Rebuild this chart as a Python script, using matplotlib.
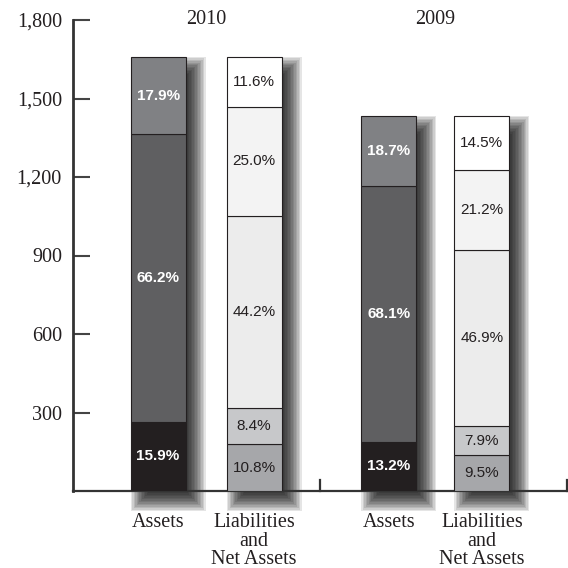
import matplotlib
matplotlib.use("Agg")
import matplotlib.pyplot as plt
from matplotlib.patches import Rectangle
import numpy as np

# values
YEARS = ["2010", "2009"]
TOTALS = [1660, 1433]
ASSET_PCT = [[15.9, 66.2, 17.9], [13.2, 68.1, 18.7]]
LIAB_PCT = [[10.8, 8.4, 44.2, 25.0, 11.6], [9.5, 7.9, 46.9, 21.2, 14.5]]
CATEGORIES = ["Assets", "Liabilities\nand\nNet Assets"]
Y_TICKS = [300, 600, 900, 1200, 1500, 1800]

ASSET_COLORS = ["#231f20", "#5f5f61", "#808184"]
LIAB_COLORS = ["#a6a7aa", "#c7c8ca", "#ececec", "#f3f3f3", "#ffffff"]
INK = "#231f20"
SERIF = "Liberation Serif"
SANS = "Liberation Sans"

CENTERS = [[1.55, 3.3], [5.75, 7.45]]
BAR_W = 1.0

W_PX = H_PX = 568
fig = plt.figure(figsize=(W_PX / 100, H_PX / 100), dpi=100)
ax = fig.add_axes([73 / 568, 77 / 568, 494 / 568, 471 / 568])
ax.set_xlim(0, 9)
ax.set_ylim(0, 1800)

# data units per pixel, used for the soft drop shadow
PX_X = 9 / 494
PX_Y = 1800 / 471

for g, year in enumerate(YEARS):
    total = TOTALS[g]
    for kind, (pcts, colors) in enumerate(
        [(ASSET_PCT[g], ASSET_COLORS), (LIAB_PCT[g], LIAB_COLORS)]
    ):
        x = CENTERS[g][kind]
        bottom = 0.0
        for pct, color in zip(pcts, colors):
            h = total * pct / 100
            ax.bar(x, h, width=BAR_W, bottom=bottom, color=color,
                   edgecolor=INK, linewidth=0.8, zorder=3)
            if kind == 0:
                ax.text(x, bottom + h / 2, f"{pct:.1f}%", ha="center", va="center",
                        color="white", fontweight="bold", fontsize=11, family=SANS, zorder=4)
            else:
                ax.text(x, bottom + h / 2, f"{pct:.1f}%", ha="center", va="center",
                        color=INK, fontsize=11, family=SANS, zorder=4)
            bottom += h

        # stacked translucent rectangles fake a blurred shadow
        off = 10
        for s in np.linspace(-12, 10, 16):
            left = x - BAR_W / 2 + (off - s) * PX_X
            width = BAR_W + 2 * s * PX_X
            low = -(off + s) * PX_Y
            height = bottom + 2 * s * PX_Y
            ax.add_patch(Rectangle((left, low), width, height, facecolor="black",
                                   edgecolor="none", alpha=0.1, zorder=1, clip_on=False))

    ax.text(np.mean(CENTERS[g]), 1800, year, ha="center", va="center",
            fontsize=14.5, family=SERIF, color=INK)

# axes styling
for side in ["top", "right"]:
    ax.spines[side].set_visible(False)
ax.spines["left"].set_linewidth(2)
ax.spines["bottom"].set_linewidth(1.6)
ax.spines["left"].set_color("#333333")
ax.spines["bottom"].set_color("#333333")
ax.set_yticks(Y_TICKS)
ax.set_yticklabels([f"{v:,}" for v in Y_TICKS], family=SERIF, fontsize=14.5, color=INK)
ax.tick_params(axis="y", direction="in", length=12.5, width=1.5, color="#444444", pad=8)

ax.set_xticks([c for pair in CENTERS for c in pair])
ax.set_xticklabels(CATEGORIES * 2, family=SERIF, fontsize=14.5, color=INK,
                   linespacing=0.95)
ax.tick_params(axis="x", length=0, pad=16)

# group divider and right end marks
for xm in (4.5, 9.0):
    ax.plot([xm, xm], [0, 42], color="#333333", linewidth=1.6, clip_on=False, zorder=5)

ax.set_xlim(0, 9)
ax.set_ylim(0, 1800)
fig.savefig("out.png", dpi=100)
